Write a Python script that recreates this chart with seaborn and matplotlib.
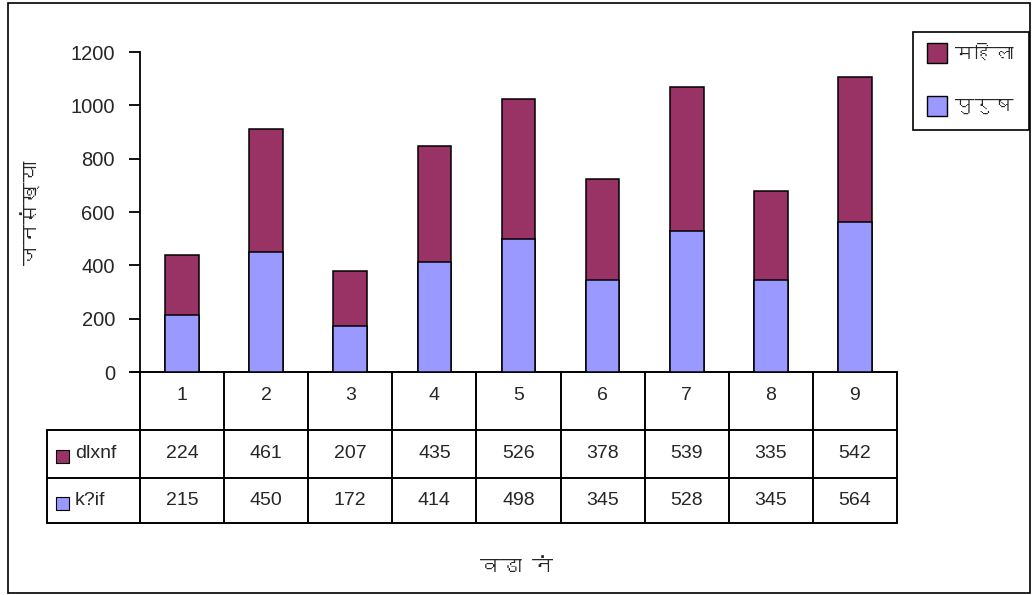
import numpy as np
import pandas as pd
import seaborn as sns
import matplotlib
matplotlib.use("Agg")
import matplotlib.pyplot as plt
import matplotlib.patches as patches
from matplotlib import font_manager
from matplotlib.ft2font import FT2Font

wards = ["1", "2", "3", "4", "5", "6", "7", "8", "9"]
mahila = [224, 461, 207, 435, 526, 378, 539, 335, 542]
purush = [215, 450, 172, 414, 498, 345, 528, 345, 564]
row_labels = ["dlxnf", "k?if"]
legend_labels = ["महिला", "पुरुष"]
y_label = "जनसंख्या"
x_label = "वडा नं"
y_ticks = [0, 200, 400, 600, 800, 1000, 1200]

col_mahila = "#993366"
col_purush = "#9999FF"

sns.set_theme(style="white")

# find something that can draw Devanagari, if the box has it
deva = None
for f in font_manager.fontManager.ttflist:
    try:
        if 0x092E in FT2Font(f.fname).get_charmap():
            deva = f.name
            break
    except Exception:
        continue
fams = ["Liberation Sans", "DejaVu Sans"]
deva_fams = ([deva] if deva else []) + fams
plt.rcParams['font.family'] = fams

W, H = 1033, 595
fig = plt.figure(figsize=(W / 100, H / 100), dpi=100)

# overlay in pixel coordinates for border / table / labels
bg = fig.add_axes([0, 0, 1, 1])
bg.set_xlim(0, W)
bg.set_ylim(H, 0)
bg.axis("off")

left, right, top, base = 140, 897, 52, 372
ax = fig.add_axes([left / W, 1 - base / H, (right - left) / W, (base - top) / H])
ax.set_zorder(2)
ax.patch.set_alpha(0)

df = pd.DataFrame({"ward": wards, "mahila": mahila, "purush": purush})
df["total"] = df["mahila"] + df["purush"]

sns.barplot(data=df, x="ward", y="total", color=col_mahila, saturation=1,
            edgecolor="black", linewidth=1.1, width=0.4, ax=ax)
sns.barplot(data=df, x="ward", y="purush", color=col_purush, saturation=1,
            edgecolor="black", linewidth=1.1, width=0.4, ax=ax)

ax.set_xlim(-0.5, len(wards) - 0.5)
ax.set_ylim(0, 1200)
ax.set_yticks(y_ticks)
ax.set_yticklabels([str(t) for t in y_ticks], fontsize=14.5)
ax.set_xticks([])
ax.set_xlabel("")
ax.set_ylabel("")
for s in ["top", "right", "bottom"]:
    ax.spines[s].set_visible(False)
ax.spines["left"].set_color("black")
ax.spines["left"].set_linewidth(1.3)
ax.tick_params(axis="y", direction="out", length=8, width=1.3, color="black",
               left=True, pad=10)

# outer frame
bg.add_patch(patches.Rectangle((8, 3), 1022, 590, fill=False, edgecolor="black", linewidth=1.2))

# data table under the bars
cw = (right - left) / len(wards)
rows_y = [372, 430, 478, 523]
tab_left = 47
lw = 1.4
bg.plot([132, right], [rows_y[0]] * 2, color="black", lw=lw)
for y in rows_y[1:]:
    bg.plot([tab_left, right], [y, y], color="black", lw=lw)
for k in range(len(wards) + 1):
    bg.plot([left + k * cw] * 2, [rows_y[0], rows_y[-1]], color="black", lw=lw)
bg.plot([tab_left] * 2, [rows_y[1], rows_y[-1]], color="black", lw=lw)

for i, w in enumerate(wards):
    cx = left + (i + 0.5) * cw
    bg.text(cx, (rows_y[0] + rows_y[1]) / 2 - 6, w, ha="center", va="center", fontsize=14)
    bg.text(cx, (rows_y[1] + rows_y[2]) / 2, str(mahila[i]), ha="center", va="center", fontsize=14)
    bg.text(cx, (rows_y[2] + rows_y[3]) / 2, str(purush[i]), ha="center", va="center", fontsize=14)

for j, (lab, c) in enumerate(zip(row_labels, [col_mahila, col_purush])):
    cy = (rows_y[j + 1] + rows_y[j + 2]) / 2
    bg.add_patch(patches.Rectangle((56, cy - 4), 13, 13, facecolor=c, edgecolor="black", linewidth=0.8))
    bg.text(75, cy, lab, ha="left", va="center", fontsize=14)

# axis titles
bg.text(32, 213, y_label, rotation=90, ha="center", va="center", fontsize=15,
        fontweight="bold", family=deva_fams)
bg.text(517, 567, x_label, ha="center", va="center", fontsize=15,
        fontweight="bold", family=deva_fams)

# legend box, drawn by hand so it stays inside the frame
bg.add_patch(patches.Rectangle((913, 32), 116, 98, fill=False, edgecolor="black", linewidth=1.2))
for j, (lab, c) in enumerate(zip(legend_labels, [col_mahila, col_purush])):
    cy = 53 + j * 53
    bg.add_patch(patches.Rectangle((927, cy - 10), 20, 20, facecolor=c, edgecolor="black", linewidth=1.0))
    bg.text(955, cy, lab, ha="left", va="center", fontsize=14, family=deva_fams)

fig.savefig("out.png", dpi=100)
